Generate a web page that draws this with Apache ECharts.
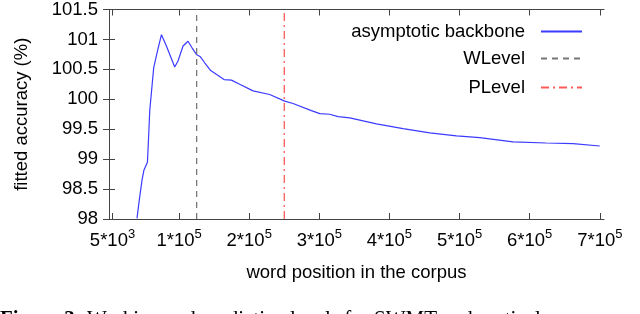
<!DOCTYPE html>
<html><head><meta charset="utf-8">
<script src="https://cdn.jsdelivr.net/npm/echarts@6/dist/echarts.min.js"></script>
<style>html,body{margin:0;padding:0;background:#fff}#c{width:640px;height:314px}</style>
</head><body><div id="c"></div>
<script>
// word position in the corpus
const positions = [39900, 43800, 47100, 49900, 54800, 55600, 57100, 58100, 63800, 69000, 74800, 81900, 93700, 98400, 105600, 112700, 118400, 124700, 130400, 136500, 145100, 164100, 174600, 186400, 205400, 229200, 250600, 262500, 288700, 300600, 314800, 326700, 343400, 381500, 419400, 457500, 495600, 528800, 576300, 623700, 661900, 700000];
// fitted accuracy (%)
const accuracy = [98.01, 98.37, 98.65, 98.82, 98.95, 99.14, 99.53, 99.81, 100.53, 100.80, 101.08, 100.89, 100.54, 100.64, 100.89, 100.97, 100.86, 100.75, 100.71, 100.61, 100.48, 100.33, 100.32, 100.25, 100.14, 100.08, 99.97, 99.93, 99.81, 99.76, 99.75, 99.71, 99.69, 99.59, 99.51, 99.44, 99.39, 99.36, 99.29, 99.27, 99.26, 99.22];
const wLevel = 125000;
const pLevel = 250000;
const xTicks = [5000, 100000, 200000, 300000, 400000, 500000, 600000, 700000];
const xTickLabels = [['5*10', '3'], ['1*10', '5'], ['2*10', '5'], ['3*10', '5'], ['4*10', '5'], ['5*10', '5'], ['6*10', '5'], ['7*10', '5']];
const yMin = 98, yMax = 101.5, yStep = 0.5;
const xMin = 0, xMax = 706000;

const FONT = '"Liberation Sans", Arial, sans-serif';
const AX = '#444';
const chart = echarts.init(document.getElementById('c'), null, {renderer: 'canvas'});
const boxLine = {show: true, lineStyle: {color: AX, width: 1}};
const legendBase = {orient: 'vertical', align: 'right', itemWidth: 41, itemHeight: 12, padding: 0,
  itemStyle: {opacity: 0},
  textStyle: {fontFamily: FONT, fontSize: 18.5, color: '#000', padding: [0, 11, 0, 0]}, selectedMode: false};
chart.setOption({
  animation: false,
  textStyle: {fontFamily: FONT},
  grid: {left: 109, right: 36, top: 8, bottom: 95, containLabel: false},
  legend: [
    Object.assign({}, legendBase, {data: ['asymptotic backbone'], right: 57, top: 22}),
    Object.assign({}, legendBase, {data: ['WLevel'], right: 57, top: 49}),
    Object.assign({}, legendBase, {data: ['PLevel'], right: 57, top: 78})
  ],
  xAxis: [{
    type: 'value', min: xMin, max: xMax, position: 'bottom',
    name: 'word position in the corpus', nameLocation: 'middle', nameGap: 44,
    nameTextStyle: {fontFamily: FONT, fontSize: 18.5, color: '#000'},
    axisLine: boxLine, splitLine: {show: false},
    axisTick: {show: true, inside: true, length: 6, lineStyle: {color: AX}, customValues: xTicks},
    axisLabel: {show: true, margin: 9, color: '#000', customValues: xTicks,
      formatter: v => { const i = xTicks.indexOf(v); return i < 0 ? '' : '{b|' + xTickLabels[i][0] + '}{s|' + xTickLabels[i][1] + '}'; },
      rich: {b: {fontFamily: FONT, fontSize: 18.5, lineHeight: 22, verticalAlign: 'bottom', color: '#000'},
             s: {fontFamily: FONT, fontSize: 13, lineHeight: 13, verticalAlign: 'top', color: '#000'}}}
  }, {
    type: 'value', min: xMin, max: xMax, position: 'top',
    axisLine: boxLine, splitLine: {show: false}, axisLabel: {show: false},
    axisTick: {show: true, inside: true, length: 6, lineStyle: {color: AX}, customValues: xTicks}
  }],
  yAxis: [{
    type: 'value', min: yMin, max: yMax, interval: yStep, position: 'left',
    name: 'fitted accuracy (%)', nameLocation: 'middle', nameGap: 78, nameRotate: 90,
    nameTextStyle: {fontFamily: FONT, fontSize: 18.5, color: '#000'},
    axisLine: boxLine, splitLine: {show: false},
    axisTick: {show: true, inside: true, length: 6, lineStyle: {color: AX}},
    axisLabel: {margin: 11, fontFamily: FONT, fontSize: 18.5, color: '#000'}
  }, {
    type: 'value', min: yMin, max: yMax, interval: yStep, position: 'right',
    axisLine: boxLine, splitLine: {show: false}, axisLabel: {show: false},
    axisTick: {show: true, inside: true, length: 6, lineStyle: {color: AX}}
  }],
  series: [{
    name: 'asymptotic backbone', type: 'line', symbol: 'none', showSymbol: false,
    lineStyle: {color: '#3b3bff', width: 1.2}, itemStyle: {color: '#3b3bff'},
    data: positions.map((x, i) => [x, accuracy[i]])
  }, {
    name: 'WLevel', type: 'line', symbol: 'none', showSymbol: false,
    lineStyle: {color: '#777', width: 1.3, type: [6, 5]}, itemStyle: {color: '#333'},
    data: [[wLevel, yMin], [wLevel, yMax]]
  }, {
    name: 'PLevel', type: 'line', symbol: 'none', showSymbol: false,
    lineStyle: {color: '#ff5a5a', width: 1.3, type: [8, 4, 2, 4]}, itemStyle: {color: '#ff5a5a'},
    data: [[pLevel, yMin], [pLevel, yMax]]
  }],
  graphic: [{
    type: 'text', left: 0, top: 309,
    style: {text: '{b|Figure 3:} Working and predictive levels for SWMT and vertical',
      font: '21px "Liberation Serif", serif', fill: '#000',
      rich: {b: {fontFamily: '"Liberation Serif", serif', fontWeight: 'bold', fontSize: 21}}}
  }]
});
</script></body></html>
